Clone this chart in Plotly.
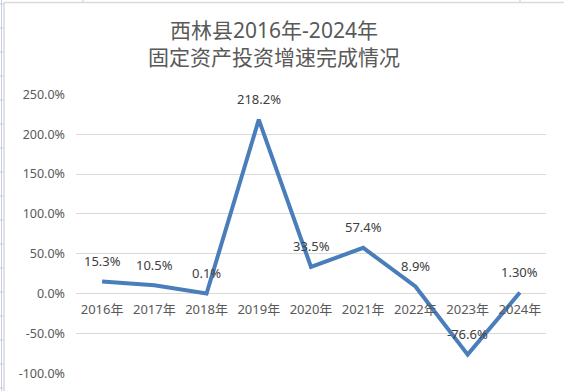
import plotly.graph_objects as go

W, H = 564, 391

categories = ["2016年", "2017年", "2018年", "2019年", "2020年", "2021年", "2022年", "2023年", "2024年"]
growth = [15.3, 10.5, 0.1, 218.2, 33.5, 57.4, 8.9, -76.6, 1.3]
labels = ["15.3%", "10.5%", "0.1%", "218.2%", "33.5%", "57.4%", "8.9%", "-76.6%", "1.30%"]
y_ticks = [-100, -50, 0, 50, 100, 150, 200, 250]
y_tick_text = ["-100.0%", "-50.0%", "0.0%", "50.0%", "100.0%", "150.0%", "200.0%", "250.0%"]

FONT = "Microsoft YaHei, Noto Sans, Noto Sans CJK SC, sans-serif"

def px_x(p):
    return p / W

def px_y(p):
    return 1 - p / H

y_top_px, y_bot_px = 94.3, 373.3
ymin, ymax = -100, 250
dom_y = [px_y(y_bot_px), px_y(y_top_px)]
zero_pos = dom_y[0] + (dom_y[1] - dom_y[0]) * (0 - ymin) / (ymax - ymin)

fig = go.Figure()
fig.add_trace(go.Scatter(
    x=categories, y=growth, mode="lines",
    line=dict(color="#4A7EBB", width=4),
    hoverinfo="skip",
))

for c, v, t in zip(categories, growth, labels):
    fig.add_annotation(x=c, y=v, text=t, showarrow=False, yshift=20.5,
                       font=dict(family=FONT, size=13, color="#404040"))

fig.add_annotation(
    xref="paper", yref="paper", x=px_x(274), y=px_y(43.5),
    text="西林县2016年-2024年<br>固定资产投资增速完成情况",
    showarrow=False, xanchor="center", yanchor="middle",
    font=dict(family=FONT, size=21, color="#595959"),
)

shapes = []
shapes.append(dict(type="line", xref="paper", yref="paper", x0=px_x(4), x1=1, y0=px_y(2.5), y1=px_y(2.5),
                   line=dict(color="#d9d9d9", width=1.5)))
shapes.append(dict(type="line", xref="paper", yref="paper", x0=px_x(4), x1=px_x(4), y0=0, y1=px_y(2.5),
                   line=dict(color="#d9d9d9", width=1.5)))
shapes.append(dict(type="line", xref="paper", yref="paper", x0=px_x(1.5), x1=px_x(1.5), y0=0, y1=1,
                   line=dict(color="#c5cde0", width=1)))
for r in range(4, H, 24):
    shapes.append(dict(type="line", xref="paper", yref="paper", x0=0, x1=px_x(3.5), y0=px_y(r), y1=px_y(r),
                       line=dict(color="#c5cde0", width=1)))
for cx in [83, 520]:
    shapes.append(dict(type="line", xref="paper", yref="paper", x0=px_x(cx), x1=px_x(cx), y0=px_y(0), y1=px_y(2),
                       line=dict(color="#c5cde0", width=1)))

fig.update_layout(
    width=W, height=H,
    margin=dict(l=0, r=0, t=0, b=0, pad=0, autoexpand=False),
    paper_bgcolor="white", plot_bgcolor="white",
    showlegend=False,
    shapes=shapes,
    xaxis=dict(
        domain=[px_x(76), px_x(546)],
        anchor="free", position=zero_pos,
        type="category", range=[-0.5, 8.5],
        showgrid=False, showline=False, zeroline=False,
        ticks="", ticklabelstandoff=6, automargin=False,
        tickfont=dict(family=FONT, size=13, color="#595959"),
    ),
    yaxis=dict(
        domain=dom_y,
        range=[ymin, ymax],
        tickvals=y_ticks, ticktext=y_tick_text,
        showgrid=True, gridcolor="#d9d9d9", gridwidth=1,
        zeroline=True, zerolinecolor="#d9d9d9", zerolinewidth=1,
        showline=False, ticks="", ticklabelstandoff=10, automargin=False,
        tickfont=dict(family=FONT, size=12.5, color="#595959"),
    ),
)

fig.write_html(
    "out.html",
    config={"displayModeBar": False},
    post_script="document.body.style.margin='0';document.body.style.overflow='hidden';",
)
